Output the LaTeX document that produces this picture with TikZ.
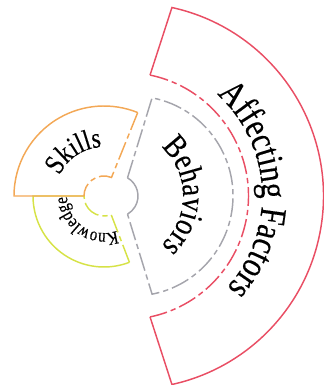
\documentclass[tikz,border=0pt]{standalone}
\usepackage{fontspec}
\setmainfont{Liberation Serif}
\newfontfamily\labelfont[FakeStretch=0.82,FakeBold=0.3]{Liberation Serif}
\usetikzlibrary{calc,decorations.text}
\definecolor{factred}{RGB}{233,78,100}
\definecolor{behgray}{RGB}{165,165,172}
\definecolor{skorange}{RGB}{243,168,86}
\definecolor{knyellow}{RGB}{214,226,70}
\begin{document}
\begin{tikzpicture}[x=0.75pt, y=0.75pt, line width=1.1pt,
    gap/.style={dash pattern=on 14pt off 3pt on 4pt off 3pt},
    arctext/.style={decorate, decoration={text along path, text align=center, text={#1}}}]
    \useasboundingbox (-111,-189) rectangle (213,196);
    \coordinate (c1) at (-7,0);
    \coordinate (c2) at (6,0);
    \coordinate (c2o) at (22,0);
    \coordinate (c3) at (14,0);
    \coordinate (c3o) at (19.5,0);
    \draw[knyellow] ($(c1)+(180:20)$) -- ($(c1)+(180:71)$) arc[start angle=180, end angle=291, radius=71];
    \draw[knyellow, gap] ($(c1)+(291:71)$) -- ($(c1)+(291:20)$) arc[start angle=291, end angle=180, radius=20];
    \draw[skorange] ($(c1)+(180:20)$) -- ($(c1)+(180:90)$) arc[start angle=180, end angle=68, radius=90];
    \draw[skorange, gap] ($(c1)+(68:90)$) -- ($(c1)+(68:20)$) arc[start angle=68, end angle=180, radius=20];
    \draw[behgray] ($(c2)+(60:21)$) arc[start angle=60, end angle=-60, radius=21];
    \draw[behgray, gap] ($(c2)+(60:21)$) -- ($(c2o)+(79:100)$) arc[start angle=79, end angle=-79, radius=100] -- ($(c2)+(-60:21)$);
    \draw[factred] ($(c3)+(78.3:123.5)$) -- ($(c3o)+(77.6:193)$) arc[start angle=77.6, end angle=-77.6, radius=193] -- ($(c3)+(-78.3:123.5)$);
    \draw[factred, gap] ($(c3)+(78.3:123.5)$) arc[start angle=78.3, end angle=-78.3, radius=123.5];
    \path[arctext={|\labelfont\fontsize{21.5}{24}\selectfont|Skills}] ($(c1)+(190:49)$) arc[start angle=190, end angle=58, radius=49];
    \path[arctext={|\labelfont\fontsize{14}{16}\selectfont|Knowledge}] ($(c1)+(306:37)$) arc[start angle=306, end angle=165, radius=37];
    \path[arctext={|\labelfont\fontsize{25}{27}\selectfont|Behaviors}] ($(c2)+(85:66)$) arc[start angle=85, end angle=-85, radius=66];
    \path[arctext={|\labelfont\fontsize{28}{30}\selectfont|Affecting Factors}] ($(c3)+(88:137)$) arc[start angle=88, end angle=-82, radius=137];
  \end{tikzpicture}
\end{document}
